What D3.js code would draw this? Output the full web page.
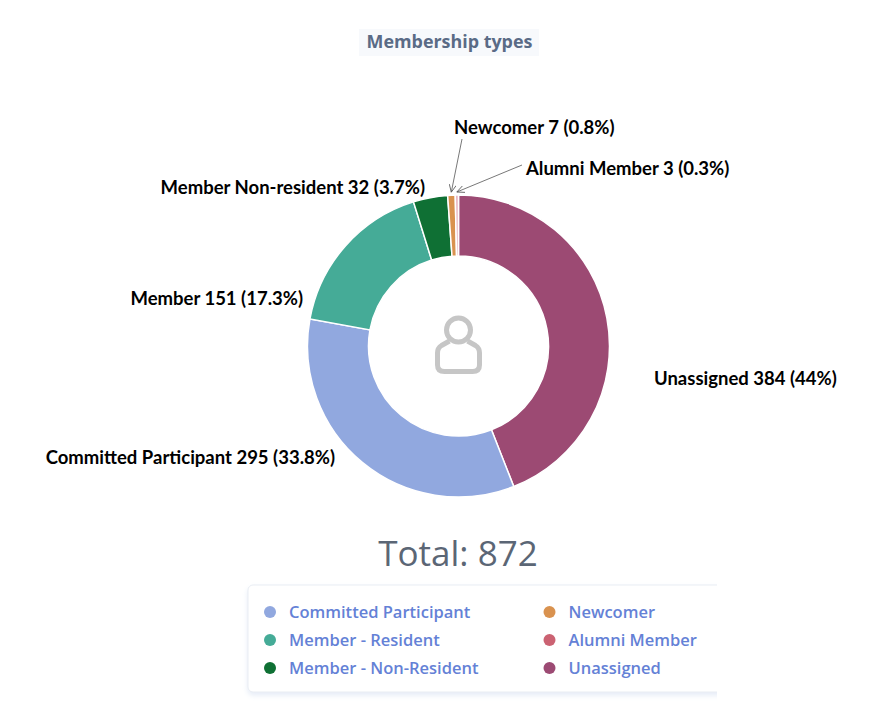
<!DOCTYPE html>
<html>
<head>
<meta charset="utf-8">
<script src="https://cdn.jsdelivr.net/npm/d3@7"></script>
<style>
  html, body { margin: 0; padding: 0; background: #fff; }
</style>
</head>
<body>
<script>
// Data
var sliceNames = ["Unassigned", "Committed Participant", "Member", "Member Non-resident", "Newcomer", "Alumni Member"];
var sliceValues = [384, 295, 151, 32, 7, 3];
var slicePercents = ["44%", "33.8%", "17.3%", "3.7%", "0.8%", "0.3%"];
var sliceColors = ["#9c4a73", "#91a8df", "#45ab97", "#0f7034", "#d9924f", "#e9b6c2"];

var legendNames = ["Committed Participant", "Member - Resident", "Member - Non-Resident", "Newcomer", "Alumni Member", "Unassigned"];
var legendColors = ["#91a8df", "#45ab97", "#0f7034", "#d9924f", "#cb6272", "#9c4a73"];

var titleText = "Membership types";
var totalText = "Total: 872";

// Layout
var width = 890, height = 727;
var cx = 458.5, cy = 346, outerR = 151, innerR = 90;

// where each label sits: anchor point, and whether it has a leader line
var labelPlaces = [
  {x: 654, y: 385, anchor: "start"},
  {x: 335, y: 464, anchor: "end"},
  {x: 303, y: 305, anchor: "end"},
  {x: 425, y: 194, anchor: "end"},
  {x: 454, y: 134, anchor: "start", leader: [462, 139]},
  {x: 526, y: 175, anchor: "start", leader: [522, 165]}
];

var svg = d3.select("body")
    .append("svg")
    .attr("width", width)
    .attr("height", height)
    .style("display", "block");

var defs = svg.append("defs");
defs.append("marker")
    .attr("id", "arrow")
    .attr("viewBox", "0 0 8 8")
    .attr("refX", 7.5)
    .attr("refY", 4)
    .attr("markerWidth", 8)
    .attr("markerHeight", 8)
    .attr("markerUnits", "userSpaceOnUse")
    .attr("orient", "auto")
    .append("path")
    .attr("d", "M0,0.5L7.5,4L0,7.5")
    .attr("fill", "none")
    .attr("stroke", "#555")
    .attr("stroke-width", 0.8);

var blur = defs.append("filter")
    .attr("id", "panelShadow")
    .attr("x", "-5%").attr("y", "-10%")
    .attr("width", "110%").attr("height", "125%");
blur.append("feDropShadow")
    .attr("dx", 0)
    .attr("dy", 3)
    .attr("stdDeviation", 2.5)
    .attr("flood-color", "#c9d6ee")
    .attr("flood-opacity", 0.45);

defs.append("clipPath")
    .attr("id", "panelClip")
    .append("rect")
    .attr("x", 240).attr("y", 578)
    .attr("width", 477).attr("height", 125);

// Title
svg.append("rect")
    .attr("x", 359).attr("y", 29)
    .attr("width", 180).attr("height", 27)
    .attr("fill", "#f7f9fc");

svg.append("text")
    .attr("x", 449.5)
    .attr("y", 48)
    .attr("text-anchor", "middle")
    .attr("font-family", "'Open Sans', sans-serif")
    .attr("font-weight", 700)
    .attr("font-size", 17.9)
    .attr("fill", "#5a6b86")
    .text(titleText);

// Donut
var pie = d3.pie().sort(null).value(d => d);
var arc = d3.arc().innerRadius(innerR).outerRadius(outerR);
var arcs = pie(sliceValues);

var donut = svg.append("g")
    .attr("transform", `translate(${cx}, ${cy})`);

donut.selectAll("path")
    .data(arcs)
    .enter()
    .append("path")
    .attr("d", arc)
    .attr("fill", (d, i) => sliceColors[i])
    .attr("stroke", "#fff")
    .attr("stroke-width", 1.5);

// Person icon in the hole
var icon = svg.append("g")
    .attr("transform", `translate(${cx}, 330)`)
    .attr("fill", "none")
    .attr("stroke", "#c6c6c6")
    .attr("stroke-width", 5);
icon.append("circle")
    .attr("r", 12);
icon.append("path")
    .attr("stroke-linejoin", "round")
    .attr("d", "M-9,11 L-17,15.5 Q-21,18 -21,23 L-21,35 Q-21,41.5 -14,41.5 L14,41.5 Q21,41.5 21,35 L21,23 Q21,18 17,15.5 L9,11");

// Labels
var labels = svg.append("g")
    .attr("font-family", "Lato, Carlito, sans-serif")
    .attr("font-weight", 700)
    .attr("font-size", 18.5)
    .attr("fill", "#000");

labels.selectAll("text")
    .data(sliceNames)
    .enter()
    .append("text")
    .attr("x", (d, i) => labelPlaces[i].x)
    .attr("y", (d, i) => labelPlaces[i].y)
    .attr("text-anchor", (d, i) => labelPlaces[i].anchor)
    .text((d, i) => `${d} ${sliceValues[i]} (${slicePercents[i]})`);

// Leader lines for the two thin slices, pointing at the slice's outer edge
arcs.forEach(function(d, i) {
    var place = labelPlaces[i];
    if (!place.leader) return;
    var mid = (d.startAngle + d.endAngle) / 2;
    svg.append("line")
        .attr("x1", place.leader[0])
        .attr("y1", place.leader[1])
        .attr("x2", cx + (outerR + 3) * Math.sin(mid))
        .attr("y2", cy - (outerR + 3) * Math.cos(mid))
        .attr("stroke", "#555")
        .attr("stroke-width", 0.8)
        .attr("marker-end", "url(#arrow)");
});

// Total
svg.append("text")
    .attr("x", 458)
    .attr("y", 566)
    .attr("text-anchor", "middle")
    .attr("font-family", "'Open Sans', sans-serif")
    .attr("font-size", 35)
    .attr("fill", "#5b6675")
    .text(totalText);

// Legend panel, cut off on its right side
var panel = svg.append("g").attr("clip-path", "url(#panelClip)");
panel.append("rect")
    .attr("x", 248).attr("y", 585)
    .attr("width", 520).attr("height", 107)
    .attr("rx", 5)
    .attr("fill", "#fff")
    .attr("stroke", "#e9edf3")
    .attr("filter", "url(#panelShadow)");

var legendRows = 3;
var legendX = d3.scalePoint().domain([0, 1]).range([270, 549.5]);
var legendY = d3.scalePoint().domain([0, 1, 2]).range([612, 668]);

var legend = panel.selectAll("g.item")
    .data(legendNames)
    .enter()
    .append("g")
    .attr("class", "item")
    .attr("transform", (d, i) => `translate(${legendX(Math.floor(i / legendRows))}, ${legendY(i % legendRows)})`);

legend.append("circle")
    .attr("r", 6)
    .attr("fill", (d, i) => legendColors[i]);

legend.append("text")
    .attr("x", 19)
    .attr("y", 6)
    .attr("font-family", "'Open Sans', sans-serif")
    .attr("font-weight", 600)
    .attr("font-size", 16.5)
    .attr("fill", "#6481d6")
    .text(d => d);
</script>
</body>
</html>
